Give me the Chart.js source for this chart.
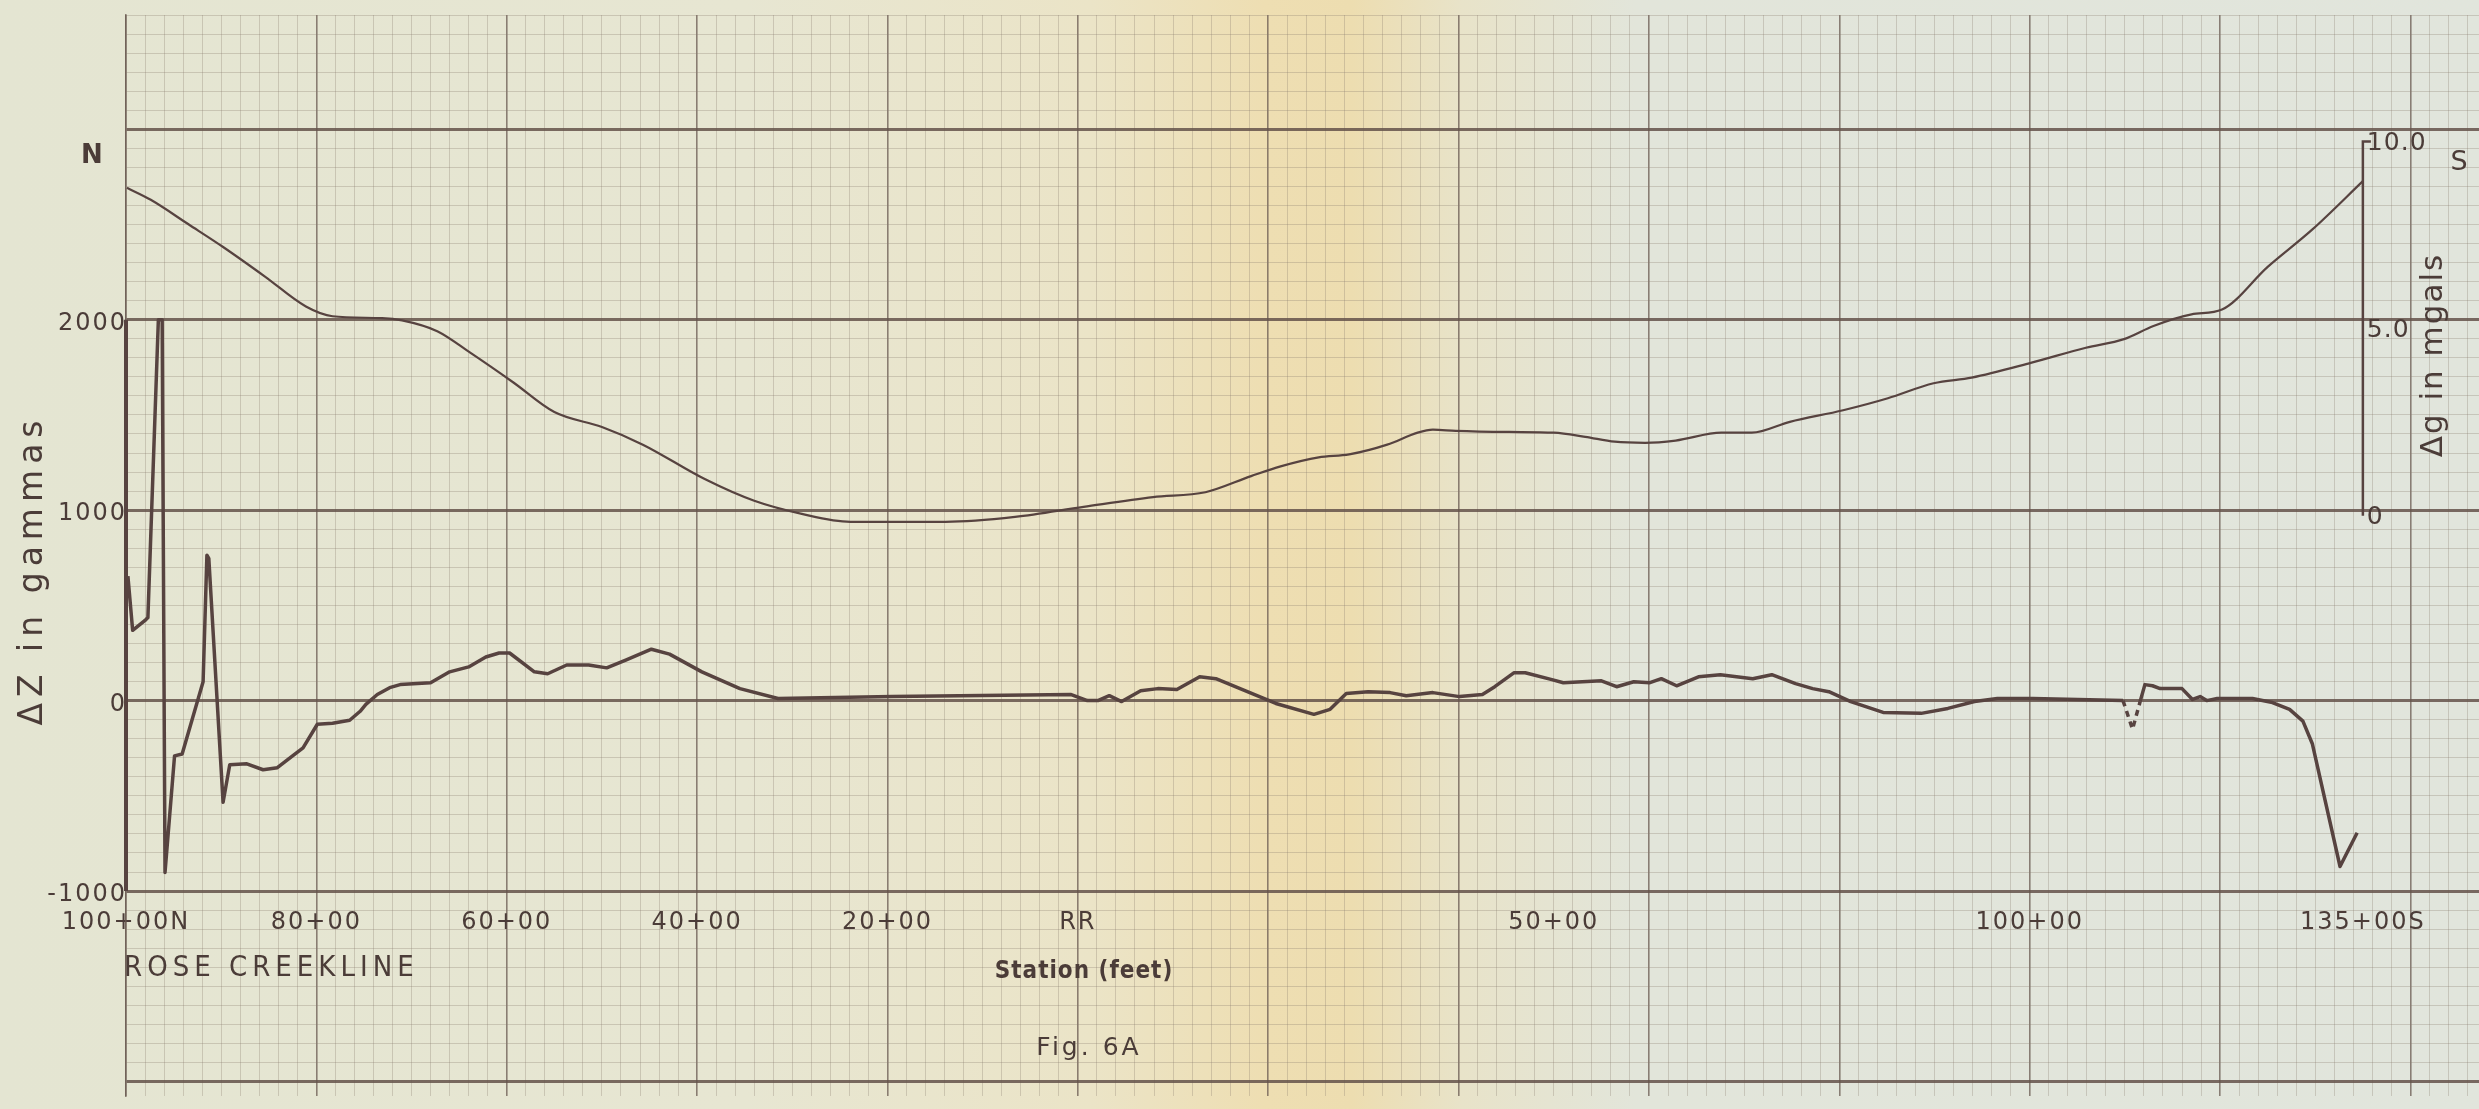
<!DOCTYPE html>
<html>
<head>
<meta charset="utf-8">
<script src="https://cdn.jsdelivr.net/npm/chart.js@4.4.1/dist/chart.umd.min.js"></script>
<style>
html,body{margin:0;padding:0;background:#e6e5d2;overflow:hidden}
canvas{display:block}
</style>
</head>
<body>
<canvas id="c" width="2479" height="1109"></canvas>
<script>
// Station in hundreds of feet: negative = north of RR (100+00N = -100), positive = south (135+00S = 135)
const dzStation = [-99.8, -99.3, -98.0, -97.7, -96.6, -96.2, -95.9, -94.9, -94.1, -91.9,
  -91.5, -91.3, -89.8, -89.1, -87.3, -85.6, -84.1, -82.5, -81.4, -79.9,
  -78.3, -76.5, -75.4, -74.8, -73.6, -72.3, -71.2, -68.0, -66.0, -64.0,
  -62.2, -60.8, -59.7, -57.1, -55.7, -53.7, -51.4, -49.5, -47.5, -44.8,
  -42.9, -39.5, -35.5, -31.5, -19.5, -0.7, 1.0, 2.1, 3.3, 4.6,
  6.6, 8.4, 10.4, 12.8, 14.5, 17.3, 20.8, 24.8, 26.5, 28.2,
  30.5, 32.8, 34.5, 37.3, 40.1, 42.5, 43.8, 45.8, 47.0, 49.8,
  51.0, 55.0, 56.6, 58.4, 60.1, 61.3, 62.9, 65.2, 67.5, 70.9,
  72.9, 75.4, 77.2, 78.9, 81.2, 84.6, 88.6, 91.4, 94.2, 96.6,
  100.3, 109.8, 110.8, 111.6, 112.1, 112.9, 113.7, 116.0, 117.1, 117.9,
  118.6, 119.7, 123.4, 125.5, 127.3, 128.7, 129.7, 132.6, 134.4];
// ΔZ in gammas
const dzGamma = [654, 369, 421, 436, 2000, 2000, -902, -290, -280, 99,
  763, 747, -534, -337, -332, -363, -352, -290, -248, -124,
  -119, -103, -56, -20, 32, 68, 84, 94, 151, 177,
  229, 250, 250, 151, 141, 187, 187, 172, 213, 270,
  244, 151, 63, 11, 21, 32, 0, 0, 26, -5,
  52, 63, 58, 125, 115, 58, -15, -72, -46, 37,
  47, 42, 26, 42, 21, 32, 73, 146, 146, 110,
  94, 104, 73, 99, 94, 115, 78, 125, 136, 115,
  136, 89, 63, 47, -5, -62, -67, -41, -5, 11,
  11, 0, -150, -5, 84, 78, 63, 63, 6, 21,
  0, 11, 11, -10, -46, -108, -228, -871, -694];
// stretch of the ΔZ trace drawn dashed (stations)
const dzDashedRange = [109.8, 111.6];

const dgStation = [-99.9, -97.4, -93.4, -89.8, -85.4, -81.1, -78.3, -73.1, -71.0, -67.3,
  -63.8, -59.3, -55.0, -50.0, -45.7, -39.2, -34.0, -29.0, -23.9, -13.9,
  -6.6, 0.6, 7.9, 13.4, 18.2, 21.3, 25.3, 28.5, 32.5, 35.7,
  37.3, 39.7, 45.3, 50.0, 53.3, 56.4, 59.6, 62.8, 67.6, 70.8,
  74.8, 80.4, 85.1, 89.9, 93.9, 100.2, 105.9, 109.9, 113.0, 117.0,
  120.2, 125.0, 129.7, 135.0];
// Δg in mgals
const dgMgal = [8.76, 8.44, 7.78, 7.18, 6.39, 5.59, 5.33, 5.28, 5.22, 4.93,
  4.35, 3.56, 2.77, 2.37, 1.90, 0.98, 0.40, 0.05, -0.16, -0.16,
  -0.03, 0.24, 0.50, 0.63, 1.06, 1.32, 1.56, 1.64, 1.90, 2.22,
  2.30, 2.27, 2.24, 2.22, 2.11, 1.98, 1.95, 2.01, 2.22, 2.22,
  2.51, 2.82, 3.14, 3.54, 3.69, 4.09, 4.49, 4.72, 5.07, 5.38,
  5.51, 6.65, 7.65, 8.94];

const yTickValues = [2000, 1000, 0, -1000];
const xLabelValues = [-100, -80, -60, -40, -20, 0, 50, 100, 135];
const xLabelTexts = ['100+00N', '80+00', '60+00', '40+00', '20+00', 'RR', '50+00', '100+00', '135+00S'];
const dgTickValues = [10, 5, 0];
const dgTickTexts = ['10.0', '5.0', '0'];

// ---- styling / layout ----
const INK = '#574340';
const TEXT = '#4b3c38';
const MINOR = 'rgba(135,122,110,0.30)';
const MAJOR_V = 'rgba(105,90,82,0.75)';
const MAJOR_H = 'rgba(100,82,74,0.85)';
const FONT = '"DejaVu Sans", sans-serif';

const X_MIN = -100, X_MAX = 147.2;
const Y_MIN = -2074, Y_MAX = 3600;
const Y2_MIN = -15.488, Y2_MAX = 13.377;

const points = (xs, ys) => xs.map((x, i) => ({x: x, y: ys[i]}));

function drawText(ctx, s, x, y, font, opts) {
  opts = opts || {};
  ctx.save();
  ctx.font = font;
  ctx.fillStyle = TEXT;
  ctx.letterSpacing = (opts.spacing || 0) + 'px';
  ctx.textAlign = opts.align || 'center';
  ctx.textBaseline = 'middle';
  ctx.translate(x, y);
  if (opts.rotate) ctx.rotate(opts.rotate);
  ctx.fillText(s, 0, 0);
  ctx.restore();
}

const paperPlugin = {
  id: 'paper',
  beforeDraw(chart) {
    const {ctx, width, height} = chart;
    const g = ctx.createLinearGradient(0, 0, width, 0);
    g.addColorStop(0.00, '#e4e5d2');
    g.addColorStop(0.30, '#e7e6d2');
    g.addColorStop(0.44, '#ebe4c7');
    g.addColorStop(0.51, '#eedeb2');
    g.addColorStop(0.545, '#edddb0');
    g.addColorStop(0.59, '#e8e3c9');
    g.addColorStop(0.66, '#e2e5da');
    g.addColorStop(1.00, '#e1e5dc');
    ctx.save();
    ctx.fillStyle = g;
    ctx.fillRect(0, 0, width, height);
    ctx.restore();
    // wider lettering for the axis tick labels
    ctx.letterSpacing = '2px';
  },
  afterDatasetsDraw(chart) {
    const {ctx, scales} = chart;
    const xs = scales.x, y = scales.y, y2 = scales.y2;
    ctx.save();
    ctx.strokeStyle = INK;
    ctx.lineCap = 'butt';
    // ΔZ axis (left) drawn heavy between -1000 and 2000
    ctx.lineWidth = 4;
    ctx.beginPath();
    const xl = xs.getPixelForValue(X_MIN);
    ctx.moveTo(xl, y.getPixelForValue(yTickValues[0]));
    ctx.lineTo(xl, y.getPixelForValue(yTickValues[yTickValues.length - 1]));
    ctx.stroke();
    // Δg axis at 135+00S
    const xr = xs.getPixelForValue(xLabelValues[xLabelValues.length - 1]);
    ctx.lineWidth = 2.5;
    ctx.beginPath();
    ctx.moveTo(xr + 8, y2.getPixelForValue(dgTickValues[0]));
    ctx.lineTo(xr, y2.getPixelForValue(dgTickValues[0]));
    ctx.lineTo(xr, y2.getPixelForValue(dgTickValues[dgTickValues.length - 1]));
    ctx.stroke();
    ctx.restore();
    dgTickValues.forEach((v, i) => {
      drawText(ctx, dgTickTexts[i], xr + 4, y2.getPixelForValue(v) + 2, '25px ' + FONT, {align: 'left', spacing: 1});
    });
  },
  afterDraw(chart) {
    const ctx = chart.ctx;
    drawText(ctx, 'N', 92, 156, 'bold 26px ' + FONT);
    drawText(ctx, 'S', 2459, 163, '27px ' + FONT);
    drawText(ctx, 'ΔZ in gammas', 33, 570, '33px ' + FONT, {rotate: -Math.PI / 2, spacing: 6});
    drawText(ctx, 'Δg in mgals', 2434, 355, '31px ' + FONT, {rotate: -Math.PI / 2, spacing: 2});
    drawText(ctx, 'Station (feet)', 1084, 972, 'bold 24px "DejaVu Sans Condensed", ' + FONT, {spacing: 1});
    drawText(ctx, 'ROSE CREEKLINE', 124, 968, '29px "DejaVu Sans Condensed", ' + FONT, {align: 'left', spacing: 5});
    drawText(ctx, 'Fig. 6A', 1089, 1048, '25px ' + FONT, {spacing: 3});
    ctx.letterSpacing = '0px';
  }
};

const chart = new Chart(document.getElementById('c'), {
  type: 'line',
  data: {
    datasets: [
      {
        label: 'ΔZ (gammas)',
        data: points(dzStation, dzGamma),
        yAxisID: 'y',
        xAxisID: 'x',
        borderColor: INK,
        borderWidth: 3.5,
        pointRadius: 0,
        tension: 0,
        fill: false,
        borderJoinStyle: 'round',
        segment: {
          borderDash: c => (c.p0.parsed.x >= dzDashedRange[0] && c.p1.parsed.x <= dzDashedRange[1]) ? [6, 5] : undefined
        }
      },
      {
        label: 'Δg (mgals)',
        data: points(dgStation, dgMgal),
        yAxisID: 'y2',
        xAxisID: 'x',
        borderColor: INK,
        borderWidth: 2.2,
        pointRadius: 0,
        cubicInterpolationMode: 'monotone',
        fill: false
      }
    ]
  },
  options: {
    responsive: false,
    devicePixelRatio: 1,
    animation: false,
    events: [],
    layout: {padding: {top: 15, left: 0, right: 0, bottom: 0}},
    plugins: {legend: {display: false}, tooltip: {enabled: false}, title: {display: false}},
    scales: {
      x: {
        type: 'linear',
        position: 'bottom',
        min: X_MIN, max: X_MAX,
        ticks: {stepSize: 2, display: false, autoSkip: false, includeBounds: false},
        grid: {
          drawTicks: false,
          color: c => (c.tick && c.tick.value % 20 === 0) ? MAJOR_V : MINOR,
          lineWidth: c => (c.tick && c.tick.value % 20 === 0) ? 1.6 : 1
        },
        border: {display: false},
        afterFit: s => { s.height = 0; }
      },
      x2: {
        type: 'linear',
        position: {y: -1000},
        min: X_MIN, max: X_MAX,
        grid: {display: false, drawTicks: false},
        border: {display: false},
        afterBuildTicks: s => { s.ticks = xLabelValues.map(v => ({value: v})); },
        ticks: {
          autoSkip: false, maxRotation: 0, minRotation: 0, padding: 17,
          color: TEXT,
          font: {family: FONT, size: 24},
          callback: (v) => { const i = xLabelValues.indexOf(v); return i >= 0 ? xLabelTexts[i] : ''; }
        },
        afterFit: s => { s.height = 0; }
      },
      y: {
        type: 'linear',
        position: 'left',
        min: Y_MIN, max: Y_MAX,
        ticks: {
          stepSize: 100, autoSkip: false, includeBounds: false, padding: -1, labelOffset: 4,
          color: TEXT,
          font: {family: FONT, size: 24},
          callback: v => yTickValues.includes(v) ? String(v) : ''
        },
        grid: {
          drawTicks: false,
          color: c => (c.tick && c.tick.value % 1000 === 0) ? MAJOR_H : MINOR,
          lineWidth: c => (c.tick && c.tick.value % 1000 === 0) ? 3 : 1
        },
        border: {display: true, color: MAJOR_V, width: 1.6},
        afterFit: s => { s.width = 126; }
      },
      y2: {
        type: 'linear',
        display: false,
        position: 'right',
        min: Y2_MIN, max: Y2_MAX,
        grid: {display: false}
      }
    }
  },
  plugins: [paperPlugin]
});
</script>
</body>
</html>
